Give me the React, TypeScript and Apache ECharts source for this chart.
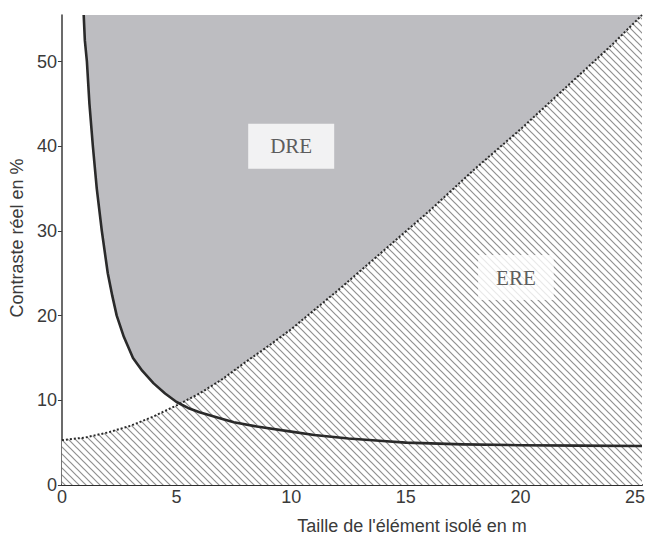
import React, { useEffect, useRef } from "react";
import * as echarts from "echarts";

// Solid decreasing curve (limit between white zone and DRE / ERE)
const solidX = [0.95, 1.0, 1.09, 1.2, 1.35, 1.52, 1.74, 2.0, 2.2, 2.39, 2.7, 3.1, 3.5, 4.0, 4.5, 5.0, 5.5, 6.0, 7.0, 7.5, 8.5, 10, 11, 12.5, 14, 15, 17.5, 20, 22.5, 25.3];
const solidY = [55.5, 52.5, 50, 45, 40, 35, 30, 25, 22.3, 20, 17.5, 15, 13.5, 12, 10.8, 9.8, 9.1, 8.6, 7.8, 7.4, 6.9, 6.3, 5.9, 5.5, 5.2, 5.0, 4.8, 4.7, 4.65, 4.6];

// Dotted increasing curve (limit DRE / ERE)
const dotX = [0, 1, 2, 3, 4, 5, 6, 7, 8, 9, 10, 12, 14, 16, 18, 20, 22, 24, 25.3];
const dotY = [5.3, 5.6, 6.2, 7.0, 8.1, 9.4, 10.8, 12.5, 14.5, 16.4, 18.4, 22.9, 27.6, 32.3, 37.3, 42.0, 47.0, 52.0, 55.5];

const xTicks = [0, 5, 10, 15, 20, 25];
const yTicks = [0, 10, 20, 30, 40, 50];

const zoneNames = ["DRE", "ERE"];
const zoneX = [10, 19.8];
const zoneY = [40, 24.5];

export default function App() {
  const ref = useRef<HTMLDivElement>(null);
  useEffect(() => {
    if (!ref.current) return;
    const chart = echarts.init(ref.current, null, { renderer: "svg" });

    const tile = 7;
    const cv = document.createElement("canvas");
    cv.width = tile;
    cv.height = tile;
    const ctx = cv.getContext("2d")!;
    ctx.fillStyle = "#ffffff";
    ctx.fillRect(0, 0, tile, tile);
    ctx.strokeStyle = "#909090";
    ctx.lineWidth = 1.2;
    ctx.beginPath();
    ctx.moveTo(-1, -1);
    ctx.lineTo(tile + 1, tile + 1);
    ctx.moveTo(-2, tile - 2);
    ctx.lineTo(2, tile + 2);
    ctx.moveTo(tile - 2, -2);
    ctx.lineTo(tile + 2, 2);
    ctx.stroke();

    const solid = solidX.map((x, i) => [x, solidY[i]]);
    const dotted = dotX.map((x, i) => [x, dotY[i]]);
    const fontSans = "'Liberation Sans', Arial, sans-serif";

    chart.setOption({
      animation: false,
      backgroundColor: "#ffffff",
      grid: { left: 55, right: 8, top: 15, bottom: 51, containLabel: false },
      xAxis: {
        type: "value",
        min: 0,
        max: 25.3,
        interval: 5,
        name: "Taille de l'élément isolé en m",
        nameLocation: "middle",
        nameGap: 32,
        nameTextStyle: { fontFamily: fontSans, fontSize: 18, color: "#3a3a3a", padding: [0, 0, 0, 120] },
        axisLine: { show: true, lineStyle: { color: "#2e2e2e", width: 2 } },
        axisTick: { show: true, inside: true, length: 4, customValues: xTicks, lineStyle: { color: "#2e2e2e" } },
        axisLabel: { customValues: xTicks, margin: 3, fontFamily: fontSans, fontSize: 18, color: "#3a3a3a" },
        splitLine: { show: false },
      },
      yAxis: {
        type: "value",
        min: 0,
        max: 55.5,
        interval: 10,
        name: "Contraste réel en %",
        nameLocation: "middle",
        nameRotate: 90,
        nameGap: 30,
        nameTextStyle: { fontFamily: fontSans, fontSize: 18, color: "#3a3a3a", padding: [0, 0, 0, 24] },
        axisLine: { show: true, lineStyle: { color: "#3a3a3a", width: 1.5 } },
        axisTick: { show: true, inside: false, length: 4, customValues: yTicks, lineStyle: { color: "#3a3a3a" } },
        axisLabel: { customValues: yTicks, margin: 5, fontFamily: fontSans, fontSize: 18, color: "#3a3a3a" },
        splitLine: { show: false },
      },
      series: [
        {
          name: "dre-fill",
          type: "line",
          data: solid,
          symbol: "none",
          smooth: false,
          lineStyle: { width: 0 },
          areaStyle: { color: "#bdbdc1", opacity: 1, origin: "end" },
          z: 1,
          silent: true,
        },
        {
          name: "ere-fill",
          type: "line",
          data: dotted,
          symbol: "none",
          smooth: false,
          lineStyle: { width: 0 },
          areaStyle: { color: { image: cv, repeat: "repeat" }, opacity: 1, origin: "start" },
          z: 2,
          silent: true,
        },
        {
          name: "dotted",
          type: "line",
          data: dotted,
          symbol: "none",
          smooth: false,
          lineStyle: { color: "#2a2a2a", width: 2, type: [2, 2] },
          z: 3,
        },
        {
          name: "solid",
          type: "line",
          data: solid,
          symbol: "none",
          smooth: false,
          lineStyle: { color: "#2a2a2a", width: 2.6, join: "round" },
          z: 4,
        },
        {
          name: "zones",
          type: "scatter",
          symbolSize: 0,
          z: 5,
          data: zoneNames.map((n, i) => ({
            name: n,
            value: [zoneX[i], zoneY[i]],
            label: {
              padding: i === 0 ? [12, 22] : [12, 18],
            },
          })),
          label: {
            show: true,
            position: "inside",
            formatter: "{b}",
            fontFamily: "'Liberation Serif', 'Times New Roman', serif",
            fontSize: 21,
            color: "#333333",
            backgroundColor: "#ffffff",
          },
        },
      ],
    });
    return () => chart.dispose();
  }, []);
  return (
    <div
      ref={ref}
      style={{ position: "absolute", left: 0, top: 0, width: 650, height: 540 }}
    />
  );
}
